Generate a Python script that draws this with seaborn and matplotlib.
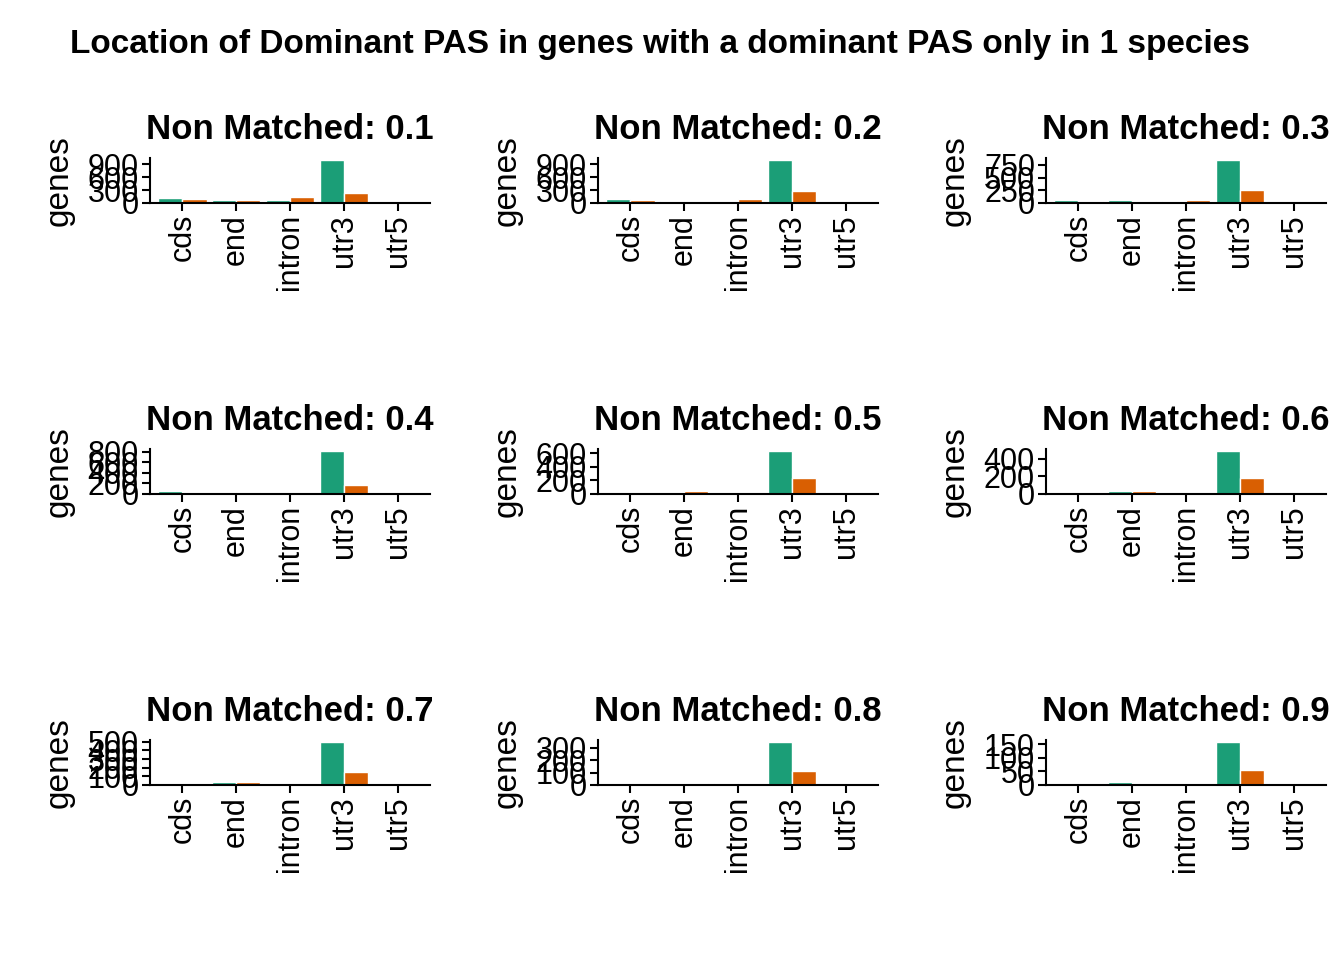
import numpy as np
import pandas as pd
import matplotlib
matplotlib.use("Agg")
import matplotlib.pyplot as plt
import seaborn as sns

sns.set_theme(style="white")
plt.rcParams['font.family'] = ['Liberation Sans', 'DejaVu Sans']
plt.rcParams['text.color'] = 'black'
plt.rcParams['axes.labelcolor'] = 'black'
plt.rcParams['xtick.color'] = 'black'
plt.rcParams['ytick.color'] = 'black'

locations = ["cds", "end", "intron", "utr3", "utr5"]
groups = ["A", "B"]
thresholds = ["0.1", "0.2", "0.3", "0.4", "0.5", "0.6", "0.7", "0.8", "0.9"]

# genes per location, first group (green) and second group (orange)
green = [
    [125, 65, 75, 1000, 25],
    [100, 50, 30, 1000, 20],
    [60, 50, 30, 850, 20],
    [50, 20, 10, 820, 10],
    [10, 10, 10, 640, 5],
    [10, 30, 15, 490, 5],
    [0, 30, 0, 500, 5],
    [0, 15, 15, 350, 5],
    [0, 10, 0, 160, 8],
]
orange = [
    [90, 60, 150, 225, 0],
    [60, 30, 90, 270, 5],
    [30, 30, 50, 250, 0],
    [20, 40, 10, 180, 0],
    [10, 40, 10, 230, 0],
    [0, 30, 15, 180, 0],
    [0, 30, 0, 150, 0],
    [0, 20, 0, 110, 0],
    [0, 5, 0, 55, 8],
]
yticks = [
    [0, 300, 600, 900],
    [0, 300, 600, 900],
    [0, 250, 500, 750],
    [0, 200, 400, 600, 800],
    [0, 200, 400, 600],
    [0, 200, 400],
    [0, 100, 200, 300, 400, 500],
    [0, 100, 200, 300],
    [0, 50, 100, 150],
]

W, H = 1344, 960
fig = plt.figure(figsize=(W / 100, H / 100), dpi=100)
fig.text(660 / W, 1 - 45 / H, "Location of Dominant PAS in genes with a dominant PAS only in 1 species",
         ha="center", va="center", fontsize=24, fontweight="bold")

for i, th in enumerate(thresholds):
    r, c = divmod(i, 3)
    x0 = 150 + c * 448
    y0 = 158 + r * 291
    ax = fig.add_axes([x0 / W, 1 - (y0 + 45) / H, 280 / W, 45 / H])
    df = pd.DataFrame({
        "location": locations * 2,
        "group": ["A"] * 5 + ["B"] * 5,
        "genes": green[i] + orange[i],
    })
    sns.barplot(data=df, x="location", y="genes", hue="group", palette=["#1B9E77", "#D95F02"],
                width=0.9, legend=False, ax=ax, saturation=1)
    top = max(green[i] + orange[i])
    ax.set_ylim(0, top * 1.04)
    ax.set_xlim(-0.6, 4.6)
    ax.set_yticks(yticks[i])
    ax.set_yticklabels([str(v) for v in yticks[i]], fontsize=22)
    ax.set_xticks(range(5))
    ax.set_xticklabels(locations, rotation=90, fontsize=22)
    ax.set_xlabel("")
    ax.set_ylabel("genes", fontsize=24, labelpad=2)
    ax.yaxis.set_label_coords(-75 / 280, 0.5)
    ax.set_title("Non Matched: " + th, fontsize=25, fontweight="bold", pad=14)
    sns.despine(ax=ax)
    for s in ["left", "bottom"]:
        ax.spines[s].set_color("black")
        ax.spines[s].set_linewidth(1.5)
    ax.tick_params(axis="both", which="both", length=6, width=1.5, color="black", left=True, bottom=True, pad=2)

fig.savefig("out.png", dpi=100)
